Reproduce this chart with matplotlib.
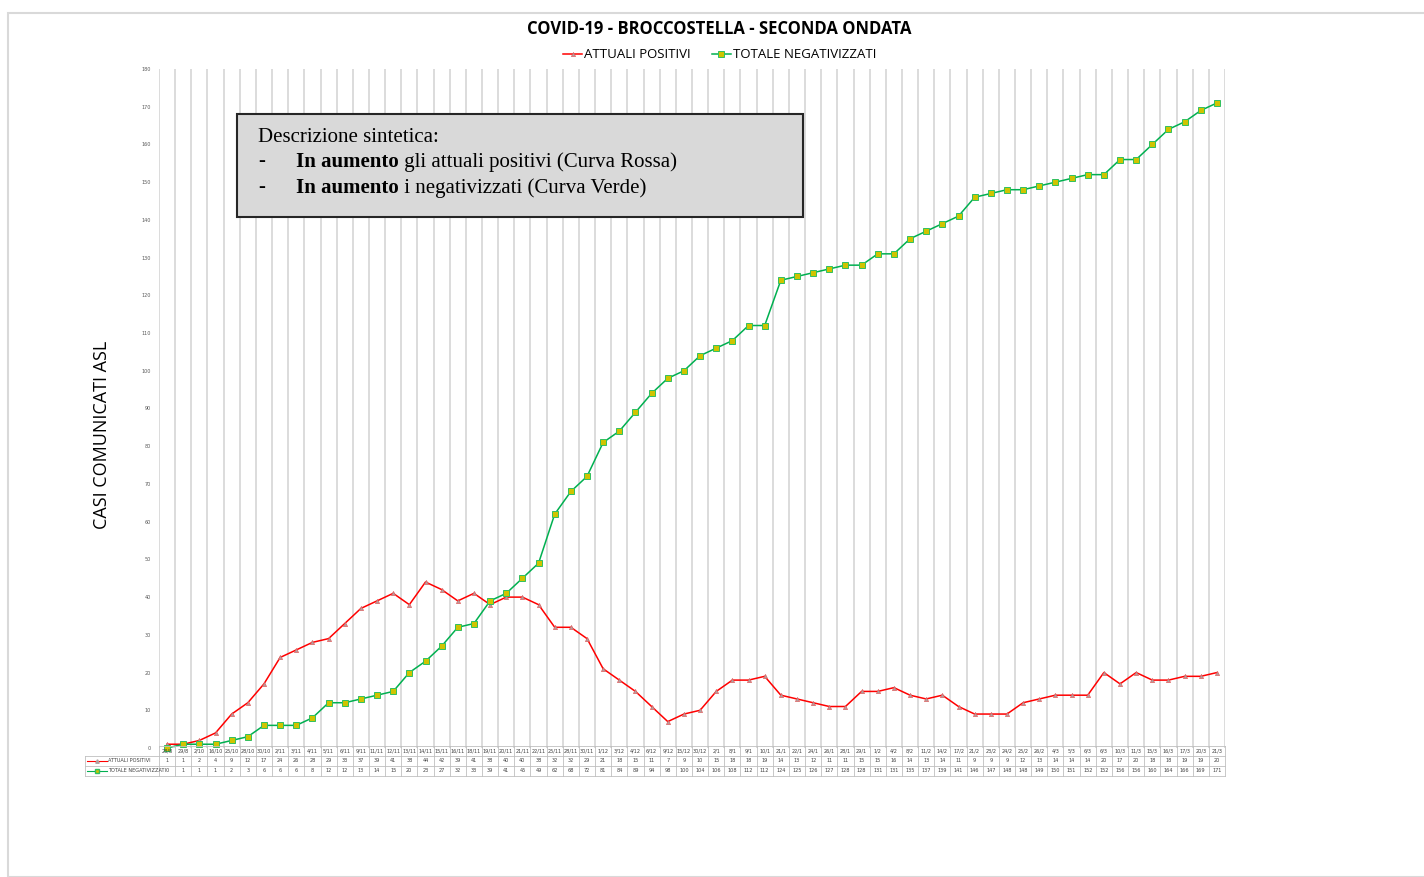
import matplotlib
matplotlib.use("Agg")
import matplotlib.pyplot as plt
from matplotlib.patches import Rectangle
import numpy as np

dates = ["28/8", "29/8", "2/10", "16/10", "25/10", "28/10", "30/10", "2/11", "3/11", "4/11",
         "5/11", "6/11", "9/11", "11/11", "12/11", "13/11", "14/11", "15/11", "16/11", "18/11",
         "19/11", "20/11", "21/11", "22/11", "25/11", "28/11", "30/11", "1/12", "3/12", "4/12",
         "6/12", "9/12", "15/12", "30/12", "2/1", "8/1", "9/1", "10/1", "21/1", "22/1",
         "24/1", "26/1", "28/1", "29/1", "1/2", "4/2", "8/2", "11/2", "14/2", "17/2",
         "21/2", "23/2", "24/2", "25/2", "26/2", "4/3", "5/3", "6/3", "6/3", "10/3",
         "11/3", "15/3", "16/3", "17/3", "20/3", "21/3"]
positivi = [1, 1, 2, 4, 9, 12, 17, 24, 26, 28, 29, 33, 37, 39, 41, 38, 44, 42, 39, 41,
            38, 40, 40, 38, 32, 32, 29, 21, 18, 15, 11, 7, 9, 10, 15, 18, 18, 19, 14, 13,
            12, 11, 11, 15, 15, 16, 14, 13, 14, 11, 9, 9, 9, 12, 13, 14, 14, 14, 20, 17,
            20, 18, 18, 19, 19, 20]
negativizzati = [0, 1, 1, 1, 2, 3, 6, 6, 6, 8, 12, 12, 13, 14, 15, 20, 23, 27, 32, 33,
                 39, 41, 45, 49, 62, 68, 72, 81, 84, 89, 94, 98, 100, 104, 106, 108, 112, 112, 124, 125,
                 126, 127, 128, 128, 131, 131, 135, 137, 139, 141, 146, 147, 148, 148, 149, 150, 151, 152, 152, 156,
                 156, 160, 164, 166, 169, 171]
yticks = list(range(0, 181, 10))

W, H = 1424, 877
fig = plt.figure(figsize=(W / 100, H / 100), dpi=100)

def fx(px):
    return px / W

def fy(py):
    return 1 - py / H

# outer border
fig.patches.append(Rectangle((fx(8), fy(877)), fx(1424 - 8) + 0.01, fy(13) - fy(877),
                             transform=fig.transFigure, fill=False, edgecolor="#d9d9d9", lw=1.5))

L, R = 159, 1225
T, B = 69, 748
ax = fig.add_axes([fx(L), fy(B), fx(R - L), fy(T) - fy(B)])
n = len(dates)
x = np.arange(n)
ax.set_xlim(-0.5, n - 0.5)
ax.set_ylim(0, 180)
for s in ax.spines.values():
    s.set_visible(False)
for b in np.arange(-0.5, n, 1.0):
    ax.axvline(b, color="#d9d9d9", lw=1.3, zorder=0)
ax.set_xticks([])
ax.set_yticks(yticks)
ax.set_yticklabels([str(v) for v in yticks], fontsize=3.5, color="#595959")
ax.tick_params(axis="y", length=0, pad=6)

l1, = ax.plot(x, positivi, color="#ff0000", lw=1.1, marker="^", markersize=3,
              markerfacecolor="#b0a0a0", markeredgecolor="#e06060", markeredgewidth=0.5,
              clip_on=False, zorder=3, label="ATTUALI POSITIVI")
l2, = ax.plot(x, negativizzati, color="#00b050", lw=1.1, marker="s", markersize=4,
              markerfacecolor="#d0c400", markeredgecolor="#30c060", markeredgewidth=0.7,
              clip_on=False, zorder=3, label="TOTALE NEGATIVIZZATI")

# title & legend
fig.text(fx(719), fy(29), "COVID-19 - BROCCOSTELLA - SECONDA ONDATA", ha="center", va="center",
         fontsize=12, fontweight="bold", family="Open Sans", color="#000000")
fig.legend(handles=[l1, l2], loc="center", bbox_to_anchor=(fx(720), fy(55)),
           ncol=2, frameon=False, handlelength=1.4, handletextpad=0.2,
           columnspacing=1.6, prop={"family": "Open Sans", "size": 9.5})

# y label
fig.text(fx(102), fy(435), "CASI COMUNICATI ASL", rotation=90, ha="center", va="center",
         fontsize=13, family="Open Sans", color="#000000")

# text box
fig.patches.append(Rectangle((fx(237), fy(217)), fx(803 - 237), fy(114) - fy(217),
                             transform=fig.transFigure, facecolor="#d9d9d9",
                             edgecolor="#262626", lw=1.5, zorder=5))
serif = "Liberation Serif"
bfs = 15
fig.text(fx(258), fy(138), "Descrizione sintetica:", ha="left", va="center",
         fontsize=bfs, family=serif, zorder=6)
for yy, rest in [(162, " gli attuali positivi (Curva Rossa)"), (188, " i negativizzati (Curva Verde)")]:
    fig.text(fx(258), fy(yy), "-", ha="left", va="center", fontsize=bfs, family=serif, zorder=6)
    t = fig.text(fx(296), fy(yy), "In aumento", ha="left", va="center", fontsize=bfs,
                 family=serif, fontweight="bold", zorder=6)
    fig.canvas.draw()
    bb = t.get_window_extent()
    fig.text(bb.x1 / W, fy(yy), rest, ha="left", va="center", fontsize=bfs,
             family=serif, zorder=6)

# data table
TT, TB = 746, 776
tax = fig.add_axes([fx(L), fy(TB), fx(R - L), fy(TT) - fy(TB)])
tax.set_xlim(-0.5, n - 0.5)
tax.set_ylim(0, 3)
tax.axis("off")
hdr_left = (85 - L) / (R - L) * n - 0.5
lc = "#bfbfbf"
for b in np.arange(-0.5, n, 1.0):
    tax.plot([b, b], [0, 3], color=lc, lw=0.6, clip_on=False)
for yv in [0, 1, 2]:
    tax.plot([hdr_left, n - 0.5], [yv, yv], color=lc, lw=0.6, clip_on=False)
tax.plot([-0.5, n - 0.5], [3, 3], color=lc, lw=0.6, clip_on=False)
tax.plot([hdr_left, hdr_left], [0, 2], color=lc, lw=0.6, clip_on=False)
fs = 3.6
for i in range(n):
    tax.text(i, 2.5, dates[i], ha="center", va="center", fontsize=fs, color="#404040")
    tax.text(i, 1.5, str(positivi[i]), ha="center", va="center", fontsize=fs, color="#404040")
    tax.text(i, 0.5, str(negativizzati[i]), ha="center", va="center", fontsize=fs, color="#404040")
# row header keys
tax.plot([hdr_left + 0.15, hdr_left + 1.35], [1.5, 1.5], color="#ff0000", lw=0.8, clip_on=False)
tax.plot([hdr_left + 0.75], [1.5], marker="^", markersize=2.5, color="#b0a0a0", clip_on=False)
tax.text(hdr_left + 1.45, 1.5, "ATTUALI POSITIVI", ha="left", va="center", fontsize=fs, color="#404040")
tax.plot([hdr_left + 0.15, hdr_left + 1.35], [0.5, 0.5], color="#00b050", lw=0.8, clip_on=False)
tax.plot([hdr_left + 0.75], [0.5], marker="s", markersize=3, markerfacecolor="#d0c400",
         markeredgecolor="#30c060", clip_on=False)
tax.text(hdr_left + 1.45, 0.5, "TOTALE NEGATIVIZZATI", ha="left", va="center", fontsize=fs, color="#404040")

fig.savefig("out.png", dpi=100)
